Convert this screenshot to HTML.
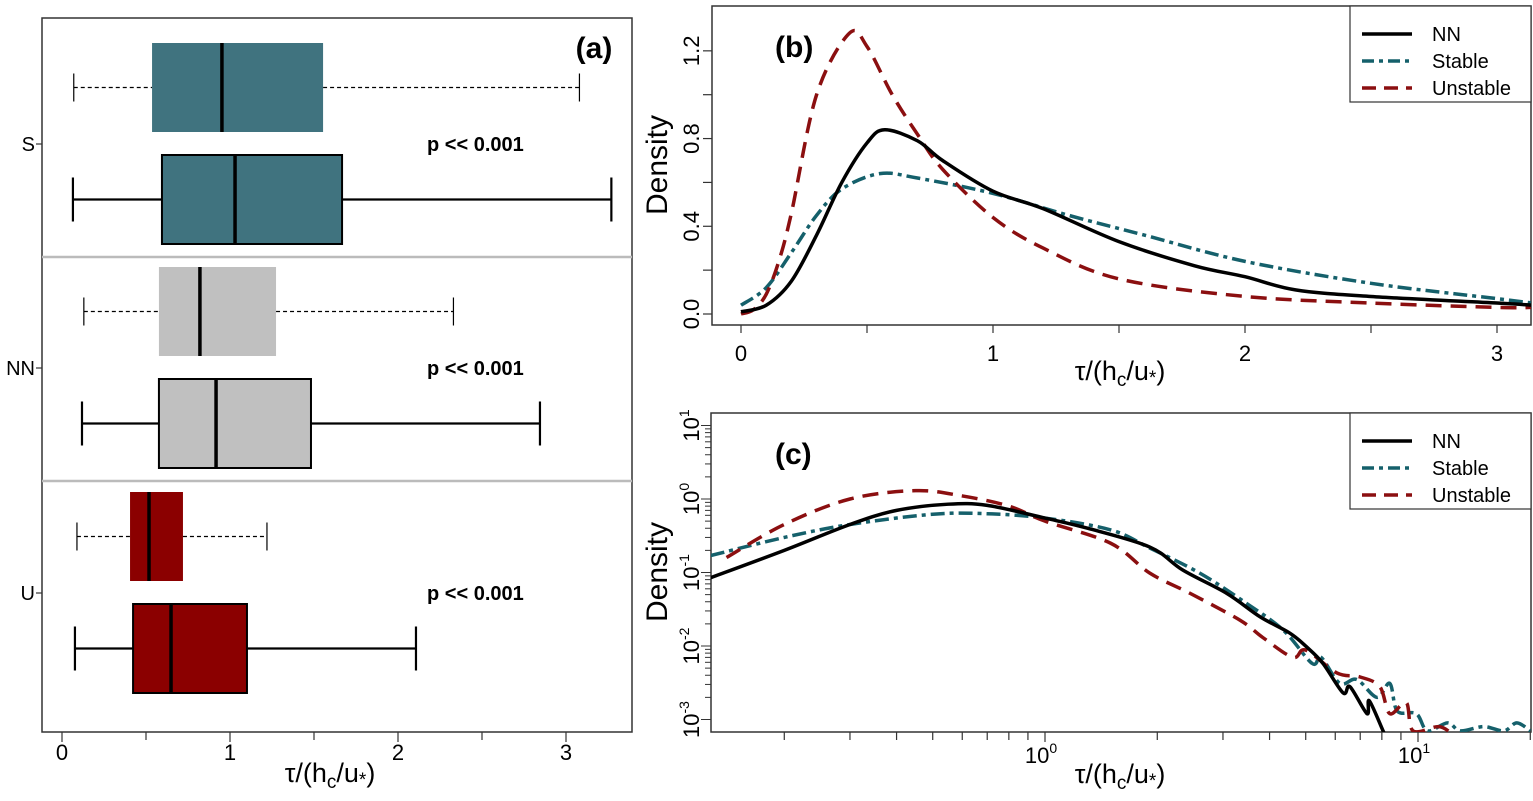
<!DOCTYPE html>
<html><head><meta charset="utf-8"><style>
html,body{margin:0;padding:0;background:#fff;}
svg{display:block;font-family:"Liberation Sans",sans-serif;}
</style></head><body>
<svg id="fig" width="1533" height="801" viewBox="0 0 1533 801"></svg>
<script>
// ---- Panel (a) boxplot data ----
const boxGroups = ["S","NN","U"];
const boxColors = ["#40737f","#c0c0c0","#8b0000"];
const dashedStats = [[0.07,0.536,0.952,1.554,3.08],[0.13,0.577,0.821,1.274,2.33],[0.089,0.405,0.518,0.72,1.22]];
const solidStats  = [[0.065,0.595,1.03,1.667,3.27],[0.119,0.577,0.917,1.482,2.845],[0.077,0.423,0.649,1.101,2.107]];
const pLabels = ["p << 0.001","p << 0.001","p << 0.001"];
const aTicks = [0,1,2,3];
// ---- Panel (b) density data ----
const nnX = [0,0.1,0.2,0.3,0.4,0.5,0.57,0.7,0.8,1.0,1.2,1.5,1.8,2.0,2.2,2.5,3.0,3.14];
const nnY = [0.01,0.04,0.15,0.36,0.6,0.78,0.84,0.79,0.70,0.56,0.48,0.33,0.22,0.17,0.11,0.08,0.05,0.04];
const stX = [0,0.1,0.2,0.3,0.4,0.55,0.7,1.0,1.3,1.6,2.0,2.5,3.0,3.14];
const stY = [0.04,0.12,0.28,0.45,0.57,0.64,0.62,0.55,0.45,0.36,0.24,0.14,0.07,0.05];
const unX = [0,0.05,0.1,0.15,0.2,0.3,0.43,0.5,0.6,0.7,0.8,1.0,1.2,1.5,2.0,2.5,3.0,3.14];
const unY = [0.0,0.02,0.09,0.24,0.46,1.0,1.28,1.22,1.0,0.82,0.66,0.44,0.3,0.16,0.08,0.05,0.03,0.03];
const bXTicks = [0,1,2,3];
const bYTicks = [0.0,0.4,0.8,1.2];
// ---- Panel (c) log-log data ----
const cnnX = [0.127,0.2,0.3,0.4,0.55,0.7,1.0,1.3,1.91,2.34,3.07,3.77,4.53,5.03,5.56,6.3,6.57,7.3,7.4,8.06,8.3];
const cnnY = [0.085,0.2,0.45,0.7,0.85,0.82,0.55,0.4,0.222,0.108,0.052,0.025,0.015,0.0097,0.0058,0.0023,0.0028,0.0012,0.0018,0.0007,0.0005];
const cstX = [0.127,0.2,0.3,0.5,0.7,1,1.5,1.91,2.6,3.47,4.35,5.2,5.5,6.17,6.85,7.76,8.4,8.8,9.9,10.6,12,13,15,17,18.4,20];
const cstY = [0.17,0.3,0.45,0.62,0.63,0.55,0.38,0.215,0.098,0.038,0.0165,0.0058,0.007,0.0031,0.0035,0.002,0.0031,0.0013,0.0012,0.0007,0.0009,0.0007,0.0008,0.0007,0.0009,0.0007];
const cunX = [0.14,0.2,0.3,0.45,0.6,0.8,1,1.5,1.91,2.45,3.33,3.84,4.62,5.0,6.06,6.98,7.9,8.4,9.3,9.7,11.4,12.5];
const cunY = [0.16,0.45,1.0,1.3,1.1,0.8,0.5,0.25,0.098,0.052,0.0225,0.013,0.007,0.0088,0.0043,0.0038,0.0028,0.0012,0.0017,0.0007,0.0008,0.0006];
const cYExp = [1,0,-1,-2,-3];

const NS="http://www.w3.org/2000/svg";
const svg=document.getElementById('fig');
function mk(tag,attrs,parent,text){const e=document.createElementNS(NS,tag);for(const k in attrs)e.setAttribute(k,attrs[k]);if(text!==undefined)e.textContent=text;(parent||svg).appendChild(e);return e;}
function xTitle(cx,cy,name){
  const t=mk('text',{x:cx,y:cy,'text-anchor':'middle','font-size':27});
  
  t.innerHTML='τ/(h<tspan font-size="19" dy="6">c</tspan><tspan dy="-6">/u</tspan><tspan font-size="19" dy="4">*</tspan><tspan dy="-4">)</tspan>';
}

// ===== Panel a =====
const ga=mk('g',{});
const aL=42,aR=632,aT=18,aB=732;
const ax=v=>62+v*168;
let e=mk('rect',{x:aL,y:aT,width:aR-aL,height:aB-aT,fill:'none',stroke:'#333','stroke-width':1.5},ga);

[257,481].forEach(y=>{e=mk('line',{x1:aL,x2:aR,y1:y,y2:y,stroke:'#bbb','stroke-width':2.5},ga);});
const grpTop=[43,267,492];
boxGroups.forEach((g,i)=>{
  const t0=grpTop[i];
  [[dashedStats[i],t0,'4,3',1.2,'dashed'],[solidStats[i],t0+112,'',2.2,'solid']].forEach(([s,top,da,sw,kind])=>{
    const h=89,mid=top+h/2;
    const bg=mk('g',{},ga);
    mk('line',{x1:ax(s[0]),x2:ax(s[1]),y1:mid,y2:mid,stroke:'#000','stroke-width':sw,'stroke-dasharray':da},bg);
    mk('line',{x1:ax(s[3]),x2:ax(s[4]),y1:mid,y2:mid,stroke:'#000','stroke-width':sw,'stroke-dasharray':da},bg);
    const cap=kind==='solid'?22:14;
    mk('line',{x1:ax(s[0]),x2:ax(s[0]),y1:mid-cap,y2:mid+cap,stroke:'#000','stroke-width':sw},bg);
    mk('line',{x1:ax(s[4]),x2:ax(s[4]),y1:mid-cap,y2:mid+cap,stroke:'#000','stroke-width':sw},bg);
    mk('rect',{x:ax(s[1]),y:top,width:ax(s[3])-ax(s[1]),height:h,fill:boxColors[i],stroke:kind==='solid'?'#000':'none','stroke-width':2},bg);
    mk('line',{x1:ax(s[2]),x2:ax(s[2]),y1:top,y2:top+h,stroke:'#000','stroke-width':3.5},bg);
  });
  const ly=t0+101;
  e=mk('line',{x1:36,x2:aL,y1:ly,y2:ly,stroke:'#333','stroke-width':1.2},ga);
  e=mk('text',{x:35,y:ly+7,'text-anchor':'end','font-size':20},ga,g);
  e=mk('text',{x:427,y:ly+7,'font-size':20,'font-weight':'bold'},ga,pLabels[i]);
});
for(let v=0;v<=3.4;v+=0.5){e=mk('line',{x1:ax(v),x2:ax(v),y1:aB,y2:aB+(v%1===0?10:8),stroke:'#333','stroke-width':1.2},ga);}
aTicks.forEach(v=>{e=mk('text',{x:ax(v),y:aB+28,'text-anchor':'middle','font-size':22},ga,v);});
e=mk('text',{x:594,y:58,'text-anchor':'middle','font-size':30,'font-weight':'bold'},ga,'(a)');
xTitle(330,782,'panel-a-x-title');

// ===== Panel b =====
const gb=mk('g',{});
const bL=712,bR=1531,bT=6,bB=325;
const bx=v=>741+v*252, by=v=>314-v*219.3;
e=mk('rect',{x:bL,y:bT,width:bR-bL,height:bB-bT,fill:'none',stroke:'#333','stroke-width':1.5},gb);
for(let v=0;v<=3.01;v+=0.5){e=mk('line',{x1:bx(v),x2:bx(v),y1:bB,y2:bB+8,stroke:'#333','stroke-width':1.2},gb);}
bXTicks.forEach(v=>{e=mk('text',{x:bx(v),y:bB+36,'text-anchor':'middle','font-size':22},gb,v);});
for(let v=0;v<=1.21;v+=0.2){e=mk('line',{x1:bL-9,x2:bL,y1:by(v),y2:by(v),stroke:'#333','stroke-width':1.2},gb);}
bYTicks.forEach(v=>{const y=by(v);e=mk('text',{x:0,y:0,'text-anchor':'middle','font-size':22,transform:`translate(699,${y}) rotate(-90)`},gb,v.toFixed(1));});
e=mk('text',{x:0,y:0,'text-anchor':'middle','font-size':30,transform:'translate(667,165) rotate(-90)'},gb,'Density');
xTitle(1120,380,'panel-b-x-title');
e=mk('text',{x:775,y:57,'font-size':30,'font-weight':'bold'},gb,'(b)');

function smoothPath(pts){let d=`M${pts[0][0]},${pts[0][1]}`;for(let i=0;i<pts.length-1;i++){const p0=pts[Math.max(i-1,0)],p1=pts[i],p2=pts[i+1],p3=pts[Math.min(i+2,pts.length-1)];const c1=[p1[0]+(p2[0]-p0[0])/6,p1[1]+(p2[1]-p0[1])/6],c2=[p2[0]-(p3[0]-p1[0])/6,p2[1]-(p3[1]-p1[1])/6];d+=` C${c1[0]},${c1[1]} ${c2[0]},${c2[1]} ${p2[0]},${p2[1]}`;}return d;}
const styles={NN:{c:'#000',d:''},Stable:{c:'#15606b',d:'14,5,4,5'},Unstable:{c:'#8b0f10',d:'16,9'}};
function series(g,xs,ys,fx,fy,name,key,clip){const pts=xs.map((x,i)=>[fx(x),fy(ys[i])]);const p=mk('path',{d:smoothPath(pts),fill:'none',stroke:styles[key].c,'stroke-width':3.5,'stroke-dasharray':styles[key].d,'clip-path':clip},g);}
const defs=mk('defs',{});
const cpb=mk('clipPath',{id:'cpb'},defs);mk('rect',{x:bL,y:bT,width:bR-bL,height:bB-bT},cpb);
const cpc=mk('clipPath',{id:'cpc'},defs);mk('rect',{x:711,y:413,width:820,height:319},cpc);
series(gb,stX,stY,bx,by,'stable-line-b','Stable','url(#cpb)');
series(gb,unX,unY,bx,by,'unstable-line-b','Unstable','url(#cpb)');
series(gb,nnX,nnY,bx,by,'nn-line-b','NN','url(#cpb)');
function legend(g,top,name){
  const lg=mk('g',{},g);
  mk('rect',{x:1350,y:top,width:181,height:96,fill:'#fff',stroke:'#333','stroke-width':1.2},lg);
  ['NN','Stable','Unstable'].forEach((k,i)=>{const y=top+28+i*27;
    const l=mk('line',{x1:1362,x2:1412,y1:y,y2:y,stroke:styles[k].c,'stroke-width':3.5,'stroke-dasharray':k==='Unstable'?'14,8':(k==='Stable'?'12,5,4,5':'')},lg);
    
    const t=mk('text',{x:1432,y:y+7,'font-size':20},lg,k);});
}
legend(gb,6,'legend-b');

// ===== Panel c =====
const gc=mk('g',{});
const cL=711,cR=1531,cT=413,cB=732;
const cx=v=>1045+Math.log10(v)*373, cy=v=>499-Math.log10(v)*73.5;
e=mk('rect',{x:cL,y:cT,width:cR-cL,height:cB-cT,fill:'none',stroke:'#333','stroke-width':1.5},gc);
[0.2,0.3,0.4,0.5,0.6,0.7,0.8,0.9,1,2,3,4,5,6,7,8,9,10,20].forEach(v=>{const X=cx(v);if(X<cL||X>cR)return;const major=(v===1||v===10);e=mk('line',{x1:X,x2:X,y1:cB,y2:cB+(major?10:8),stroke:'#333','stroke-width':1.2},gc);});
[[1,0],[10,1]].forEach(([v,p])=>{const t=mk('text',{x:cx(v)-4,y:cB+31,'text-anchor':'middle','font-size':22},gc);t.innerHTML=`10<tspan font-size="14" dy="-10">${p}</tspan>`;});
cYExp.forEach(p=>{for(let m=1;m<10;m++){const v=m*Math.pow(10,p);const Y=cy(v);if(Y<cT-2||Y>cB)continue;e=mk('line',{x1:cL-(m===1?10:6),x2:cL,y1:Y,y2:Y,stroke:'#333','stroke-width':1},gc);}
  const t=mk('text',{x:0,y:0,'text-anchor':'middle','font-size':22,transform:`translate(699,${cy(Math.pow(10,p))}) rotate(-90)`},gc);t.innerHTML=`10<tspan font-size="14" dy="-10">${p}</tspan>`;});
e=mk('text',{x:0,y:0,'text-anchor':'middle','font-size':30,transform:'translate(667,572) rotate(-90)'},gc,'Density');
xTitle(1120,783,'panel-c-x-title');
e=mk('text',{x:775,y:464,'font-size':30,'font-weight':'bold'},gc,'(c)');
series(gc,cstX,cstY,cx,cy,'stable-line-c','Stable','url(#cpc)');
series(gc,cunX,cunY,cx,cy,'unstable-line-c','Unstable','url(#cpc)');
series(gc,cnnX,cnnY,cx,cy,'nn-line-c','NN','url(#cpc)');
legend(gc,413,'legend-c');
</script>
</body></html>
